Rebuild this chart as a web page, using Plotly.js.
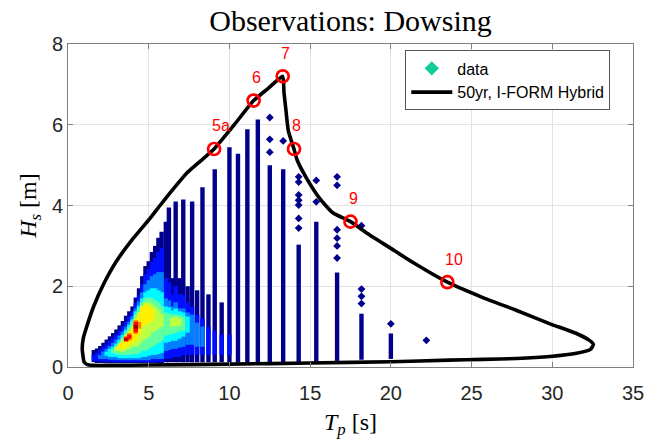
<!DOCTYPE html>
<html><head><meta charset="utf-8">
<script src="https://cdn.plot.ly/plotly-3.0.1.min.js"></script>
<style>html,body{margin:0;padding:0;background:#fff;}#chart{width:648px;height:443px;}</style>
</head><body><div id="chart"></div>
<script>
// ---- observation columns (Tp bins): bottom and top of the solid part (Hs, m)
const colTp  = [1.6,1.8,2.0,2.2,2.4,2.6,2.8,3.0,3.2,3.4,3.6,3.8,4.0,4.2,4.4,4.6,4.8,5.0,5.2,5.4,5.6,5.8,6.06,6.25,6.45,6.67,6.9,7.14,7.41,7.69,8.0,8.33,8.7,9.09,9.52,10.0,10.53,11.11,11.76,12.5,13.33,14.29,15.38,16.67,18.18,20.0];
const colLow = [0.12,0.1,0.1,0.1,0.1,0.1,0.1,0.1,0.1,0.1,0.1,0.1,0.1,0.1,0.1,0.1,0.1,0.1,0.1,0.1,0.1,0.1,0.12,0.12,0.12,0.12,0.12,0.12,0.12,0.12,0.12,0.12,0.12,0.12,0.12,0.12,0.12,0.12,0.12,0.12,0.12,0.12,0.12,0.15,0.18,0.2];
const colTop = [0.42,0.46,0.52,0.6,0.68,0.76,0.84,0.93,1.03,1.14,1.27,1.38,1.5,1.72,1.95,2.25,2.5,2.62,2.85,3.0,3.2,3.35,3.6,3.95,2.2,4.1,2.2,4.15,2.0,4.1,1.9,4.45,1.8,4.9,1.6,5.44,5.28,5.89,6.13,5.0,4.9,3.03,3.6,2.34,1.32,0.83];
// isolated observations above the columns
const outTp = [12.5,12.5,12.5,13.33,14.29,14.29,14.29,14.29,14.29,14.29,14.29,15.38,15.38,16.67,16.67,16.67,16.67,16.67,16.67,18.18,18.18,18.18,18.18,20.0,22.2];
const outHs = [6.18,5.64,5.32,5.6,4.71,4.58,4.26,4.13,4.01,3.68,3.44,4.62,4.09,4.71,4.5,3.4,3.19,3.0,2.7,3.5,1.93,1.75,1.57,1.07,0.66];

// ---- point density, drawn as nested bands on each column
const denTp  = [1.6,1.8,2.0,2.2,2.4,2.6,2.8,3.0,3.2,3.4,3.6,3.8,4.0,4.2,4.4,4.6,4.8,5.0,5.2,5.4,5.6,5.8,6.06,6.25,6.45,6.67,6.9,7.14,7.41,7.69,8.0,8.33,8.7,9.09,9.52,10.0];
const denLvl = [0.14,0.25,0.37,0.47,0.56,0.64,0.75,0.87,0.97];
const N=null;
const bandLo = [
 [.15,.15,.15,.13,.13,.13,.12,.12,.12,.12,.12,.12,.12,.12,.12,.12,.12,.12,.12,.12,.13,.13,.2,.2,.22,.25,.25,.3,.3,.3,.3,.3,.3,.3,.3,.3],
 [N,N,.2,.2,.2,.18,.18,.18,.17,.17,.17,.17,.17,.17,.17,.17,.17,.17,.2,.2,.2,.2,.4,.42,.45,.45,.48,.5,.55,.55,.5,.5,N,N,N,N],
 [N,N,N,N,.28,.25,.25,.25,.22,.22,.22,.22,.22,.22,.22,.25,.25,.28,.3,.3,.32,.35,.6,.62,.65,.65,.7,.75,.85,N,N,N,N,N,N,N],
 [N,N,N,N,N,N,.35,.32,.3,.3,.3,.3,.32,.32,.35,.4,.4,.45,.5,.55,.6,.65,.78,.8,.82,.85,.88,.9,N,N,N,N,N,N,N,N],
 [N,N,N,N,N,N,N,.4,.38,.38,.42,.45,.5,.5,.55,.65,.7,.75,.85,.9,.95,1.0,N,N,1.0,1.0,1.02,N,N,N,N,N,N,N,N,N],
 [N,N,N,N,N,N,N,N,.45,.45,.5,.55,.6,.65,.8,1.0,1.05,1.1,1.15,N,N,N,N,N,N,N,N,N,N,N,N,N,N,N,N,N],
 [N,N,N,N,N,N,N,N,N,N,.62,.66,N,.82,.95,N,N,N,N,N,N,N,N,N,N,N,N,N,N,N,N,N,N,N,N,N],
 [N,N,N,N,N,N,N,N,N,N,.64,.7,N,.86,N,N,N,N,N,N,N,N,N,N,N,N,N,N,N,N,N,N,N,N,N,N],
 [N,N,N,N,N,N,N,N,N,N,.66,N,N,.94,N,N,N,N,N,N,N,N,N,N,N,N,N,N,N,N,N,N,N,N,N,N]
];
const bandHi = [
 [.3,.35,.42,.5,.56,.64,.72,.8,.9,1.0,1.12,1.25,1.38,1.58,1.78,2.05,2.3,2.42,2.6,2.7,2.85,2.95,2.2,2.1,1.8,2.0,1.8,1.8,1.6,1.5,1.3,1.2,1.0,.9,.8,.8],
 [N,N,.3,.38,.45,.52,.6,.68,.78,.88,1.0,1.12,1.26,1.45,1.62,1.85,2.05,2.15,2.25,2.3,2.35,2.35,1.7,1.65,1.5,1.6,1.45,1.45,1.35,1.3,1.1,1.0,N,N,N,N],
 [N,N,N,N,.38,.45,.5,.58,.68,.8,.92,1.05,1.18,1.38,1.52,1.7,1.85,1.9,1.95,1.95,1.9,1.85,1.5,1.48,1.4,1.45,1.38,1.35,1.25,N,N,N,N,N,N,N],
 [N,N,N,N,N,N,.45,.52,.62,.74,.86,.98,1.12,1.3,1.45,1.6,1.7,1.72,1.7,1.65,1.6,1.5,1.35,1.32,1.3,1.3,1.28,1.25,N,N,N,N,N,N,N,N],
 [N,N,N,N,N,N,N,.5,.58,.68,.8,.9,1.02,1.2,1.36,1.52,1.6,1.6,1.55,1.48,1.4,1.3,N,N,1.22,1.25,1.2,N,N,N,N,N,N,N,N,N],
 [N,N,N,N,N,N,N,N,.56,.62,.78,.86,.95,1.18,1.3,1.48,1.55,1.5,1.45,N,N,N,N,N,N,N,N,N,N,N,N,N,N,N,N,N],
 [N,N,N,N,N,N,N,N,N,N,.76,.84,N,1.16,1.12,N,N,N,N,N,N,N,N,N,N,N,N,N,N,N,N,N,N,N,N,N],
 [N,N,N,N,N,N,N,N,N,N,.74,.8,N,1.12,N,N,N,N,N,N,N,N,N,N,N,N,N,N,N,N,N,N,N,N,N,N],
 [N,N,N,N,N,N,N,N,N,N,.7,N,N,1.04,N,N,N,N,N,N,N,N,N,N,N,N,N,N,N,N,N,N,N,N,N,N]
];
// ---- 50-year I-FORM hybrid contour
const contTp = [13.3,13.38,13.49,13.65,14.0,14.2,14.8,15.6,16.4,17.5,18.5,19.95,21.4,23.5,25.7,27.8,29.86,31.5,32.3,32.55,32.35,31.5,29.86,27.8,25.7,23.6,20.0,15.0,10.0,5.0,2.6,1.6,1.2,1.0,0.92,0.88,0.95,1.16,1.57,2.2,3.0,4.05,5.08,5.7,6.5,7.35,8.2,9.05,10.3,11.5,12.4,13.3];
const contHs = [7.2,6.8,6.4,5.85,5.4,5.12,4.66,4.17,3.82,3.6,3.32,2.95,2.58,2.1,1.72,1.40,1.07,0.83,0.66,0.56,0.43,0.34,0.26,0.21,0.19,0.17,0.13,0.1,0.07,0.05,0.04,0.04,0.06,0.12,0.3,0.45,0.72,1.0,1.48,2.05,2.62,3.19,3.68,4.0,4.4,4.8,5.1,5.4,6.0,6.6,6.9,7.2];
// ---- selected design points
const ptLabel = ['5a','6','7','8','9','10'];
const ptTp = [9.05,11.5,13.3,14.0,17.5,23.5];
const ptHs = [5.4,6.6,7.2,5.4,3.6,2.1];

const NAVY = 'rgb(0,0,140)';
function jet(v){
  const st=[[0,[0,0,143]],[0.125,[0,0,255]],[0.375,[0,255,255]],[0.625,[255,255,0]],[0.875,[255,0,0]],[1,[128,0,0]]];
  v=Math.max(0,Math.min(1,v));
  for(let i=1;i<st.length;i++){ if(v<=st[i][0]){ const a=st[i-1],b=st[i],t=(v-a[0])/(b[0]-a[0]);
    return 'rgb('+a[1].map((c,k)=>Math.round(c+(b[1][k]-c)*t)).join(',')+')'; } }
  return 'rgb(128,0,0)';
}
const traces=[];
const cx=[],cy=[];
colTp.forEach((t,i)=>{cx.push(t,t,null);cy.push(colLow[i],colTop[i],null);});
traces.push({type:'scatter',mode:'lines',x:cx,y:cy,line:{color:NAVY,width:4.4},showlegend:false,hoverinfo:'skip'});
denLvl.forEach((lv,k)=>{
  const bx=[],by=[];
  denTp.forEach((t,j)=>{ if(bandLo[k][j]!==null && bandHi[k][j]!==null){ bx.push(t,t,null); by.push(bandLo[k][j],bandHi[k][j],null);} });
  traces.push({type:'scatter',mode:'lines',x:bx,y:by,line:{color:jet(lv),width:4.4},showlegend:false,hoverinfo:'skip'});
});
traces.push({type:'scatter',mode:'markers',x:outTp,y:outHs,marker:{symbol:'diamond',size:6,color:NAVY},showlegend:false,hoverinfo:'skip'});
traces.push({type:'scatter',mode:'markers',x:[null],y:[null],name:'data',marker:{symbol:'diamond',size:11,color:'rgb(20,205,150)'}});
traces.push({type:'scatter',mode:'lines',x:contTp,y:contHs,name:'50yr, I-FORM Hybrid',line:{color:'#000',width:3.6,shape:'spline',smoothing:0.5}});
traces.push({type:'scatter',mode:'markers',x:ptTp,y:ptHs,marker:{symbol:'circle-open',size:12,color:'#ff0000',line:{width:2.7,color:'#ff0000'}},showlegend:false,hoverinfo:'skip'});

const annotations = ptLabel.map((s,i)=>({x:ptTp[i],y:ptHs[i],xref:'x',yref:'y',text:s,showarrow:false,xanchor:'left',yanchor:'middle',xshift:-4,yshift:23,font:{family:'Liberation Sans, Arial',size:16,color:'#ff0000'}}));

const axBase={showgrid:true,gridcolor:'#e3e3e3',gridwidth:1,zeroline:false,showline:true,linecolor:'#808080',linewidth:1,mirror:'ticks',ticks:'inside',ticklen:5,tickcolor:'#808080',tickfont:{family:'Liberation Sans, Arial',size:20,color:'#262626'}};
const layout={
  width:648,height:443,margin:{l:68,r:15,t:44,b:76},paper_bgcolor:'#fff',plot_bgcolor:'#fff',
  title:{text:'Observations: Dowsing',font:{family:'Liberation Serif, serif',size:30,color:'#000'},x:0.5,xref:'paper',xanchor:'center',y:0.953,yref:'container',yanchor:'middle'},
  xaxis:Object.assign({},axBase,{range:[0,35],tickvals:[0,5,10,15,20,25,30,35],ticklabelstandoff:8,title:{text:'<i>T</i><sub><i>p</i></sub> [s]',font:{family:'Liberation Serif, serif',size:24,color:'#000'},standoff:10}}),
  yaxis:Object.assign({},axBase,{range:[0,8],tickvals:[0,2,4,6,8],title:{text:'<i>H</i><sub><i>s</i></sub> [m]',font:{family:'Liberation Serif, serif',size:24,color:'#000'},standoff:8}}),
  showlegend:true,
  legend:{x:0.597,y:0.98,xanchor:'left',yanchor:'top',bgcolor:'#fff',bordercolor:'#555',borderwidth:1,itemwidth:41,font:{family:'Liberation Sans, Arial',size:16,color:'#000'},tracegroupgap:0},
  annotations:annotations
};
Plotly.newPlot('chart',traces,layout,{staticPlot:true,displayModeBar:false});
</script></body></html>
